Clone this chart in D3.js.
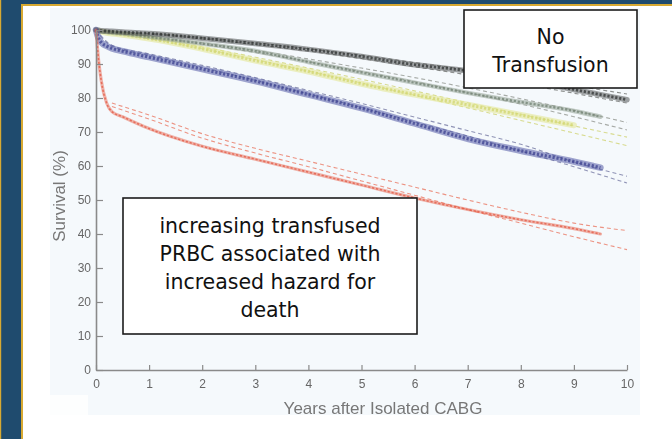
<!DOCTYPE html>
<html>
<head>
<meta charset="utf-8">
<script src="https://cdn.jsdelivr.net/npm/d3@7"></script>
<style>
  html, body { margin: 0; padding: 0; background: #ffffff; }
  svg { display: block; }
</style>
</head>
<body>
<svg id="chart" width="672" height="439"></svg>
<script>
// Kaplan-Meier survival after isolated CABG, grouped by transfused PRBC units
const kmYears   = [0, 0.05, 0.1, 0.2, 0.3, 0.5, 1, 2, 3, 4, 5, 6, 7, 8, 9, 9.5, 10];
const noneKM    = [100, 99.9, 99.8, 99.7, 99.6, 99.4, 99, 97.6, 96, 94.3, 92.2, 89.8, 88, 85.5, 82.5, 81, 79.5];
const lowKM     = [100, 99.8, 99.6, 99.4, 99.2, 99, 98, 96, 93.8, 90.6, 87.5, 84.5, 81.5, 78.8, 76.2, 74.5, null];
const midKM     = [100, 99.7, 99.5, 99.2, 99, 98.6, 97.5, 94.5, 91, 87.8, 84.2, 81, 78, 75, 72, null, null];
const highKM    = [100, 97.5, 96.3, 95.3, 94.6, 93.8, 92, 88.5, 85, 81, 77, 72.5, 68, 64.5, 61.3, 59.5, null];
const maxKM     = [100, 91, 85, 78.5, 76, 74.5, 71, 65.8, 62, 58.2, 54.4, 50.6, 47.2, 44.2, 41.6, 40, null];

// Parametric estimate, upper and lower confidence limits
const ciYears   = [0, 0.3, 1, 2, 3, 4, 5, 6, 7, 8, 9, 10];
const noneUpper = [100, 99.6, 99, 97.8, 96.3, 94.5, 92.6, 90.4, 88.3, 86, 83.6, 81.2];
const noneLower = [100, 99.5, 98.8, 97.4, 95.7, 93.8, 91.6, 89.2, 86.8, 84.2, 81.4, 78.5];
const lowUpper  = [100, 99.3, 98.2, 96.2, 94, 91.5, 88.8, 86, 83, 79.8, 76.4, 72.8];
const lowLower  = [100, 99.2, 98, 95.8, 93.4, 90.7, 87.8, 84.8, 81.6, 78.2, 74.5, 70.6];
const midUpper  = [100, 99.1, 97.7, 95, 92, 88.8, 85.5, 82.1, 78.6, 75.2, 71.8, 68.5];
const midLower  = [100, 99, 97.4, 94.5, 91.3, 87.9, 84.4, 80.8, 77.1, 73.4, 69.7, 66];
const highUpper = [100, 95.5, 93, 89.6, 86, 82.2, 78.4, 74.4, 70.4, 66.4, 61.2, 57];
const highLower = [100, 95.3, 92.6, 89, 85.2, 81.2, 77.2, 73, 68.8, 64.4, 59.8, 55];
const maxUpper  = [null, 78.5, 75, 69.5, 65.2, 61.4, 57.6, 53.8, 50, 46.4, 43.2, 41];
const maxLower  = [null, 77.5, 73.8, 68.2, 63.8, 59.8, 55.6, 51.4, 47.2, 43.2, 39.2, 35.4];

const xTicks = [0, 1, 2, 3, 4, 5, 6, 7, 8, 9, 10];
const yTicks = [0, 10, 20, 30, 40, 50, 60, 70, 80, 90, 100];

const xTitle = "Years after Isolated CABG";
const yTitle = "Survival (%)";
const noteTop = ["No", "Transfusion"];
const noteBottom = ["increasing transfused", "PRBC associated with", "increased hazard for", "death"];

// Drawing order is bottom to top
const groups = [
  { km: midKM,  up: midUpper,  lo: midLower,  color: "#e3e690", tex: "#d2d670", width: 6,   opacity: 0.75, dash: "#d8db90" },
  { km: lowKM,  up: lowUpper,  lo: lowLower,  color: "#8e9d8e", tex: "#6c7d6e", width: 4.5, opacity: 0.7,  dash: "#a7aba7" },
  { km: noneKM, up: noneUpper, lo: noneLower, color: "#4a4d4c", tex: "#2a2d2c", width: 5.5, opacity: 0.7,  dash: "#8c8f8e" },
  { km: highKM, up: highUpper, lo: highLower, color: "#4d53a2", tex: "#363c8c", width: 6.5, opacity: 0.7,  dash: "#9094b6" },
  { km: maxKM,  up: maxUpper,  lo: maxLower,  color: "#e9705b", tex: "#e2523c", width: 3.2, opacity: 0.7,  dash: "#ec9383" }
];

const svg = d3.select("#chart");

// Slide frame
svg.append("rect").attr("x", 0).attr("y", 0).attr("width", 672).attr("height", 439).attr("fill", "#ffffff");
svg.append("rect").attr("x", 0).attr("y", 0).attr("width", 672).attr("height", 4).attr("fill", "#1f4b6e");
svg.append("rect").attr("x", 0).attr("y", 4).attr("width", 672).attr("height", 2).attr("fill", "#d7a932");
svg.append("rect").attr("x", 0).attr("y", 0).attr("width", 21).attr("height", 439).attr("fill", "#1f4b6e");
svg.append("rect").attr("x", 0).attr("y", 0).attr("width", 1.2).attr("height", 439).attr("fill", "#d7a932");
svg.append("rect").attr("x", 21).attr("y", 4).attr("width", 2).attr("height", 435).attr("fill", "#d7a932");

// Figure panel
svg.append("rect").attr("x", 50).attr("y", 8).attr("width", 590).attr("height", 407).attr("fill", "#f5f9fc");
svg.append("rect").attr("x", 50).attr("y", 395).attr("width", 38).attr("height", 20).attr("fill", "#fdfefe");

const defs = svg.append("defs");
defs.append("filter").attr("id", "soft").attr("x", "-5%").attr("y", "-5%").attr("width", "110%").attr("height", "110%")
  .append("feGaussianBlur").attr("stdDeviation", 0.75);

const x = d3.scaleLinear().domain([0, 10]).range([96, 627]);
const y = d3.scaleLinear().domain([0, 100]).range([370, 30]);

const plot = svg.append("g").attr("filter", "url(#soft)");

const lineFrom = (xs, vs) => {
  const pts = xs.map((t, i) => ({ t, v: vs[i] }));
  return d3.line()
    .defined(d => d.v != null)
    .x(d => x(d.t))
    .y(d => y(d.v))
    .curve(d3.curveMonotoneX)(pts);
};

// Confidence limits (dashed)
groups.forEach(g => {
  [g.up, g.lo].forEach(vals => {
    plot.append("path")
      .attr("d", lineFrom(ciYears, vals))
      .attr("fill", "none")
      .attr("stroke", g.dash)
      .attr("stroke-width", 1.1)
      .attr("stroke-dasharray", "4,3");
  });
});

// Kaplan-Meier bands of symbols
groups.forEach(g => {
  const d = lineFrom(kmYears, g.km);
  plot.append("path")
    .attr("d", d)
    .attr("fill", "none")
    .attr("stroke", g.color)
    .attr("stroke-opacity", g.opacity * 0.75)
    .attr("stroke-width", g.width)
    .attr("stroke-linecap", "round");
  plot.append("path")
    .attr("d", d)
    .attr("fill", "none")
    .attr("stroke", g.tex)
    .attr("stroke-opacity", g.opacity)
    .attr("stroke-width", g.width * 0.5)
    .attr("stroke-dasharray", "2.2,1.8");
});

// Axes
const axisColor = "#8a8a8a";
const labelColor = "#666666";

const yAxis = plot.append("g")
  .attr("transform", `translate(${x(0)},0)`)
  .call(d3.axisLeft(y).tickValues(yTicks).tickSizeInner(-7).tickSizeOuter(0).tickPadding(5));
const xAxis = plot.append("g")
  .attr("transform", `translate(0,${y(0)})`)
  .call(d3.axisBottom(x).tickValues(xTicks).tickSizeInner(-5).tickSizeOuter(0).tickPadding(9));

[yAxis, xAxis].forEach(a => {
  a.select(".domain").attr("stroke", axisColor).attr("stroke-width", 1.6);
  a.selectAll(".tick line").attr("stroke", axisColor).attr("stroke-width", 1.2);
  a.selectAll(".tick text")
    .attr("fill", labelColor)
    .style("font-family", "'Liberation Sans', Arial, sans-serif")
    .style("font-size", "12px");
});

plot.append("text")
  .attr("x", 383).attr("y", 414)
  .attr("text-anchor", "middle")
  .attr("fill", "#777777")
  .style("font-family", "'Liberation Sans', Arial, sans-serif")
  .style("font-size", "17px")
  .text(xTitle);

plot.append("text")
  .attr("transform", "translate(65,196) rotate(-90)")
  .attr("text-anchor", "middle")
  .attr("fill", "#777777")
  .style("font-family", "'Liberation Sans', Arial, sans-serif")
  .style("font-size", "17px")
  .text(yTitle);

// Annotation boxes
const noteFont = "'DejaVu Sans', Verdana, sans-serif";

function note(bx, by, bw, bh, lines, firstBaseline, step) {
  const g = svg.append("g");
  g.append("rect")
    .attr("x", bx).attr("y", by).attr("width", bw).attr("height", bh)
    .attr("fill", "#ffffff").attr("stroke", "#1c1c1c").attr("stroke-width", 1.6);
  lines.forEach((s, i) => {
    g.append("text")
      .attr("x", bx + bw / 2).attr("y", firstBaseline + i * step)
      .attr("text-anchor", "middle")
      .attr("fill", "#111111")
      .style("font-family", noteFont)
      .style("font-size", "20.5px")
      .text(s);
  });
}

note(464, 10, 173, 78, noteTop, 44, 28);
note(123, 198, 294, 136, noteBottom, 232.5, 28);
</script>
</body>
</html>
